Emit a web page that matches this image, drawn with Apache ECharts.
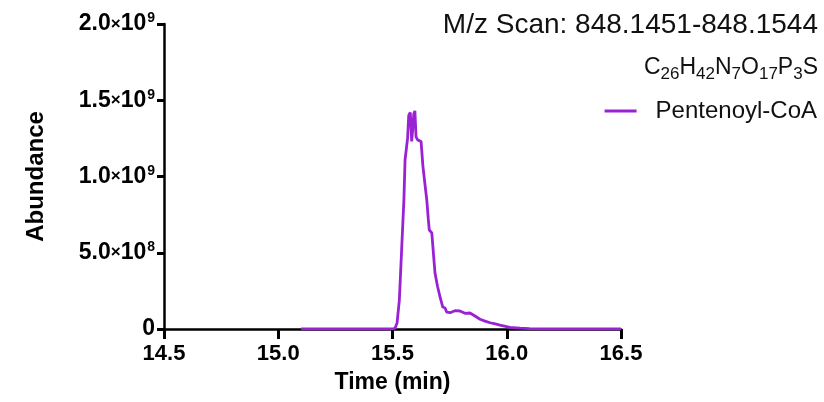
<!DOCTYPE html>
<html>
<head>
<meta charset="utf-8">
<script src="https://cdn.jsdelivr.net/npm/echarts@6/dist/echarts.min.js"></script>
<style>
  html, body { margin: 0; padding: 0; background: #fff; }
  #chart { width: 824px; height: 402px; }
</style>
</head>
<body>
<div id="chart"></div>
<script>
// retention time (min)
var times = [15.10, 15.50, 15.511, 15.52, 15.53, 15.54, 15.55, 15.555, 15.562, 15.566, 15.571, 15.578,
  15.584, 15.588, 15.593, 15.598, 15.603, 15.610, 15.618, 15.625, 15.633, 15.642, 15.650, 15.657,
  15.661, 15.672, 15.686, 15.697, 15.708, 15.720, 15.730, 15.737, 15.752, 15.773, 15.795, 15.817,
  15.839, 15.861, 15.883, 15.905, 15.927, 15.950, 15.970, 16.014, 16.058, 16.10, 16.146, 16.30, 16.50]
// abundance in units of 1e9
var abundance = [0, 0, 0.005, 0.04, 0.19, 0.52, 0.85, 1.11, 1.10, 1.25, 1.40, 1.42,
  1.23, 1.30, 1.41, 1.43, 1.26, 1.24, 1.25, 1.23, 1.07, 0.95, 0.846, 0.715,
  0.649, 0.63, 0.367, 0.28, 0.21, 0.144, 0.138, 0.111, 0.107, 0.12, 0.118, 0.103,
  0.105, 0.085, 0.064, 0.052, 0.041, 0.033, 0.026, 0.011, 0.006, 0.003, 0, 0, 0]
var seriesName = 'Pentenoyl-CoA'
var yTickLabels = { 0: '{a|0}', 500000000: '{a|5.0}{x|×}{a|10}{s|8}', 1000000000: '{a|1.0}{x|×}{a|10}{s|9}',
  1500000000: '{a|1.5}{x|×}{a|10}{s|9}', 2000000000: '{a|2.0}{x|×}{a|10}{s|9}' }

var font = 'Arial, "Liberation Sans", sans-serif'
var purple = '#9a22d4'
var tickColor = '#000'

var chart = echarts.init(document.getElementById('chart'))
chart.setOption({
  animation: false,
  textStyle: { fontFamily: font },
  title: [
    {
      text: 'M/z Scan: 848.1451-848.1544',
      right: 1, top: 6,
      textStyle: { fontSize: 28, fontWeight: 'normal', color: '#111', fontFamily: font }
    },
    {
      text: '{m|C}{s|26}{m|H}{s|42}{m|N}{s|7}{m|O}{s|17}{m|P}{s|3}{m|S}',
      right: 1, top: 48,
      textStyle: {
        fontSize: 23, fontWeight: 'normal', color: '#111', fontFamily: font,
        rich: {
          m: { fontSize: 23, lineHeight: 30, fontFamily: font, color: '#111' },
          s: { fontSize: 17, lineHeight: 30, padding: [12, 0, 0, 0], fontFamily: font, color: '#111' }
        }
      }
    }
  ],
  legend: {
    right: 2, top: 94,
    icon: 'rect',
    itemWidth: 32, itemHeight: 3,
    textStyle: { fontSize: 24, color: '#111', fontFamily: font, padding: [0, 0, 0, 14] },
    data: [seriesName]
  },
  grid: { left: 164, right: 203, top: 24, bottom: 73 },
  xAxis: {
    type: 'value', min: 14.5, max: 16.5, interval: 0.5,
    name: 'Time (min)', nameLocation: 'middle', nameGap: 42,
    nameTextStyle: { fontSize: 23, fontWeight: 'bold', color: '#000', fontFamily: font },
    axisLine: { onZero: false, lineStyle: { color: '#000', width: 2.5 } },
    axisTick: { show: true, inside: false, length: 10, lineStyle: { color: tickColor, width: 3 } },
    axisLabel: {
      fontSize: 22, fontWeight: 'bold', color: '#000', margin: 14, fontFamily: font,
      formatter: function (v) { return v.toFixed(1) }
    },
    splitLine: { show: false }
  },
  yAxis: {
    type: 'value', min: 0, max: 2000000000, interval: 500000000,
    name: 'Abundance', nameLocation: 'middle', nameGap: 116,
    nameTextStyle: { fontSize: 24, fontWeight: 'bold', color: '#000', fontFamily: font },
    axisLine: { show: true, lineStyle: { color: '#000', width: 2.5 } },
    axisTick: { show: true, inside: false, length: 7, lineStyle: { color: tickColor, width: 3 } },
    axisLabel: {
      margin: 9, color: '#000', fontSize: 22, fontWeight: 'bold', fontFamily: font,
      formatter: function (v) { return yTickLabels[v] },
      rich: {
        a: { fontSize: 23, fontWeight: 'bold', color: '#000', fontFamily: font },
        x: { fontSize: 17, color: '#000', fontFamily: font },
        s: { fontSize: 14, fontWeight: 'bold', color: '#000', padding: [0, 0, 11, 1], fontFamily: font }
      }
    },
    splitLine: { show: false }
  },
  series: [
    {
      name: seriesName,
      type: 'line',
      symbol: 'none',
      lineStyle: { color: purple, width: 2.8 },
      itemStyle: { color: purple },
      data: times.map(function (t, i) { return [t, abundance[i] * 1e9] })
    }
  ]
})
</script>
</body>
</html>
